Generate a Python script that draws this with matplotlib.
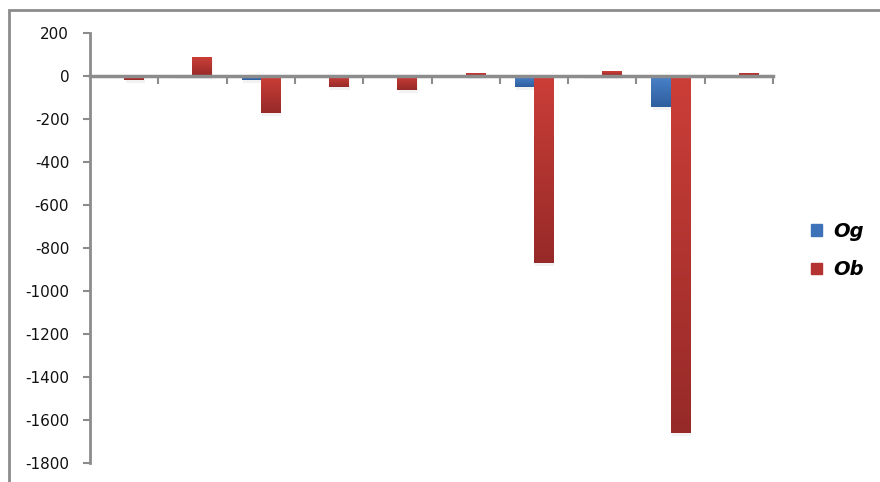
import numpy as np
import matplotlib.pyplot as plt
from matplotlib.colors import LinearSegmentedColormap
from matplotlib.patches import Rectangle

# values
categories = list(range(1, 11))
og_values = [0, 6, -19, 0, -2, 0, -51, 3, -146, 7]
ob_values = [-19, 87, -172, -51, -67, 12, -871, 22, -1662, 16]
series_names = ['Og', 'Ob']
yticks = list(range(-1800, 201, 200))

blue_cmap = LinearSegmentedColormap.from_list('blue', ['#4A83CA', '#2E5E9E'])
red_cmap = LinearSegmentedColormap.from_list('red', ['#CC3E38', '#962A28'])
grey = '#8C8C8C'

fig = plt.figure(figsize=(8.8, 4.82), dpi=100)
ax = fig.add_axes([0.1023, 0.0394, 0.7761, 0.8921])

width = 0.28
x = np.arange(len(categories))


def gradient_bars(xpos, values, cmap):
    # draw each bar as a vertical gradient clipped to its rectangle
    bars = ax.bar(xpos, values, width, align='edge', color='none', zorder=3)
    grad = np.linspace(0, 1, 256).reshape(-1, 1)
    for b in bars:
        x0, y0 = b.get_x(), b.get_y()
        w, h = b.get_width(), b.get_height()
        if h == 0:
            continue
        top, bot = max(y0, y0 + h), min(y0, y0 + h)
        # faint shadow under each bar
        ax.add_patch(Rectangle((x0 + 0.02, bot - 12), w, top - bot,
                               color='#000000', alpha=0.05, lw=0, zorder=2))
        im = ax.imshow(grad, cmap=cmap, aspect='auto',
                       extent=(x0, x0 + w, bot, top), zorder=3)
        im.set_clip_path(b)
    return bars


gradient_bars(x + 0.5 - width, og_values, blue_cmap)
gradient_bars(x + 0.5, ob_values, red_cmap)

ax.set_xlim(0, len(categories))
ax.set_ylim(-1800, 200)
ax.set_yticks(yticks)
ax.set_yticklabels([str(v) for v in yticks], fontsize=11, color='#111111')
ax.set_xticks(np.arange(1, len(categories) + 1))
ax.set_xticklabels([])

for s in ['top', 'right']:
    ax.spines[s].set_visible(False)
ax.spines['bottom'].set_position(('data', 0))
ax.spines['left'].set_color(grey)
ax.spines['left'].set_linewidth(2)
ax.spines['bottom'].set_color(grey)
ax.spines['bottom'].set_linewidth(2.5)
ax.spines['bottom'].set_zorder(4)
ax.tick_params(axis='y', length=5, width=1.5, color=grey, pad=10)
ax.tick_params(axis='x', length=6, width=1.5, color=grey, direction='out')

# legend
handles = [Rectangle((0, 0), 1, 1, color='#3D72B8'), Rectangle((0, 0), 1, 1, color='#B53331')]
fig.legend(handles, series_names, loc='center left', bbox_to_anchor=(0.902, 0.48),
           frameon=False, handlelength=0.55, handleheight=0.55, handletextpad=0.6,
           labelspacing=1.0, prop={'style': 'italic', 'weight': 'bold', 'size': 14})

# outer chart frame (cut off at right and bottom)
fig.patches.append(Rectangle((9 / 880, -0.1), 1.2, 1 - 10 / 482 + 0.1,
                             transform=fig.transFigure, fill=False,
                             edgecolor=grey, lw=2))

fig.savefig('out.png', dpi=100)
